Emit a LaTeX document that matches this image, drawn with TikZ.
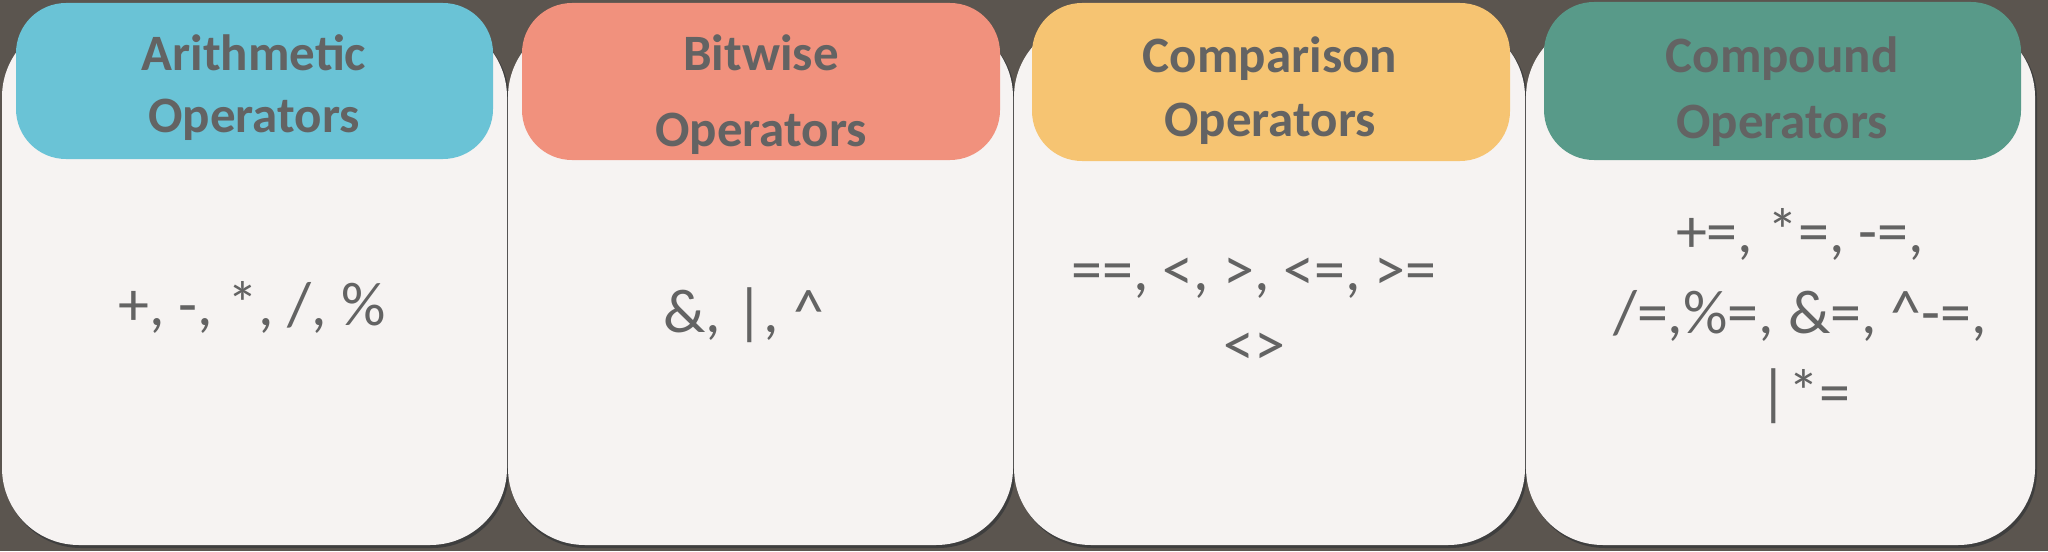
\documentclass[tikz,border=0pt]{standalone}
\usepackage{fontspec}
\setmainfont{Carlito}
\definecolor{bgc}{HTML}{5B554F}
\definecolor{cardc}{HTML}{F6F3F2}
\definecolor{shadowc}{HTML}{3E3E3E}
\definecolor{txtc}{HTML}{636363}
\definecolor{hone}{HTML}{6AC3D6}
\definecolor{htwo}{HTML}{F1917D}
\definecolor{hthree}{HTML}{F6C472}
\definecolor{hfour}{HTML}{589A89}
\tikzset{
  cardbox/.style={fill=cardc, rounded corners=38.5pt},
  cardshadow/.style={fill=shadowc, rounded corners=38.5pt},
  headbox/.style={rounded corners=25pt},
  headtxt/.style={anchor=base, text=txtc, inner sep=0pt, font=\bfseries\fontsize{25.5}{30}\selectfont},
  bodytxt/.style={anchor=base, text=txtc, inner sep=0pt, font=\fontsize{31}{37}\selectfont}
}
\begin{document}
\begin{tikzpicture}[x=0.5pt,y=-0.5pt]
\useasboundingbox (0,0) rectangle (2048,551);
\fill[bgc] (0,0) rectangle (2048,551);
% cards shadows
\fill[cardshadow] (4,22) rectangle (509,548);
\fill[cardshadow] (509,22) rectangle (1015,548);
\fill[cardshadow] (1016,22) rectangle (1527,548);
\fill[cardshadow] (1528,22) rectangle (2037,548);
% cards
\fill[cardbox] (2,20) rectangle (507,545);
\fill[cardbox] (508,20) rectangle (1013,545);
\fill[cardbox] (1014,20) rectangle (1525,545);
\fill[cardbox] (1526,20) rectangle (2035,545);
% headers
\fill[headbox, hone] (16,3) rectangle (493,159);
\fill[headbox, htwo] (522,3) rectangle (1000,160);
\fill[headbox, hthree] (1032,3) rectangle (1510,161);
\fill[headbox, hfour] (1544,2) rectangle (2021,160);
% header texts
\node[headtxt] (h1a) at (254,71) {Arithmetic};
\node[headtxt] (h1b) at (254,133) {Operators};
\node[headtxt] (h2a) at (761,71) {Bitwise};
\node[headtxt] (h2b) at (761,147) {Operators};
\node[headtxt] (h3a) at (1270,73) {Comparison};
\node[headtxt] (h3b) at (1270,136) {Operators};
\node[headtxt] (h4a) at (1782,73) {Compound};
\node[headtxt] (h4b) at (1782,138) {Operators};
% body texts
\node[bodytxt] (b1) at (252,325) {+, -, *, /, \%};
\node[bodytxt] (b2) at (744,332) {\&, |, \textasciicircum};
\node[bodytxt] (b3a) at (1254,290) {==, <, >, <=, >=};
\node[bodytxt] (b3b) at (1254,365) {<>};
\node[bodytxt] (b4a) at (1800,252) {+=, *=, -=,};
\node[bodytxt] (b4b) at (1800,333) {/=,\%=, \&=, \textasciicircum-=,};
\node[bodytxt] (b4c) at (1805,413) {|*=};
\end{tikzpicture}
\end{document}
